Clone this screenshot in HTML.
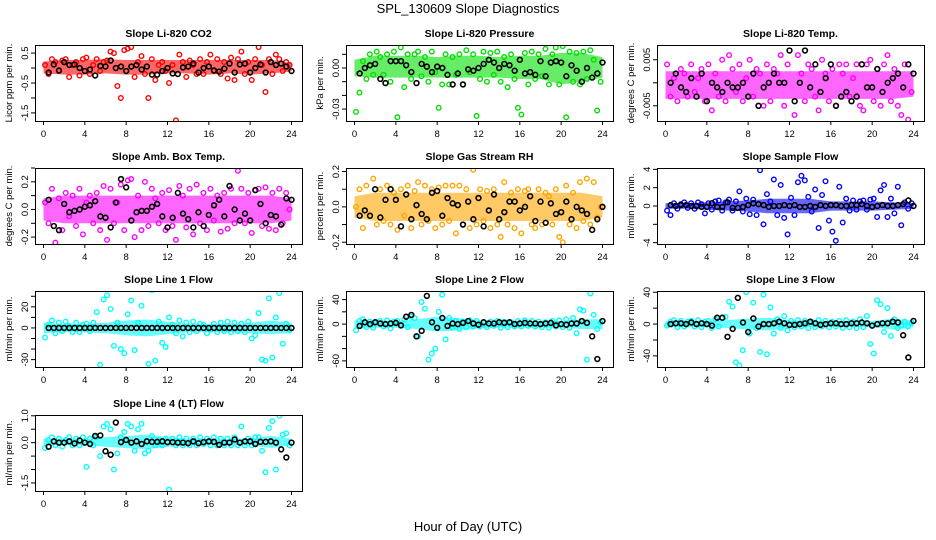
<!DOCTYPE html>
<html><head><meta charset="utf-8"><style>
body{margin:0;background:#fff;}
svg{display:block;font-family:"Liberation Sans",Arial,sans-serif;}
</style></head><body>
<svg id="chart" width="936" height="540" viewBox="0 0 936 540">
<rect width="936" height="540" fill="#fff"/>
<text x="468" y="13" text-anchor="middle" font-size="13">SPL_130609  Slope Diagnostics</text>
<text x="468" y="531" text-anchor="middle" font-size="13">Hour of Day (UTC)</text>
</svg>
<script>
// ---- data ----
const xTicks = [0,4,8,12,16,20,24];
const titles = ["Slope Li-820 CO2","Slope Li-820 Pressure","Slope Li-820 Temp.","Slope Amb. Box Temp.","Slope Gas Stream RH","Slope Sample Flow","Slope Line 1 Flow","Slope Line 2 Flow","Slope Line 3 Flow","Slope Line 4 (LT) Flow"];
const yLabels = ["Licor ppm per min.","kPa per min.","degrees C per min.","degrees C per min.","percent per min.","ml/min per min.","ml/min per min.","ml/min per min.","ml/min per min.","ml/min per min."];
const colors = ["#ff0000","#00e000","#ff00ff","#ff00ff","#ffa500","#0000ff","#00ffff","#00ffff","#00ffff","#00ffff"];
const yDomains = [[-1.77,0.77],[-0.0387,0.0168],[-0.0083,0.0082],[-0.25,0.30],[-0.21,0.22],[-4.15,4.15],[-37,35],[-70,54],[-54,41.6],[-1.8,1.03]];
const yTicks = [[0.5,0,-0.5,-1,-1.5],[0.01,0,-0.01,-0.02,-0.03],[0.005,0,-0.005],[0.3,0.2,0.1,0,-0.1,-0.2],[0.2,0.1,0,-0.1,-0.2],[4,2,0,-2,-4],[30,20,10,0,-10,-20,-30],[40,20,0,-20,-40,-60],[40,20,0,-20,-40],[1,0.5,0,-0.5,-1,-1.5]];
const yTickLabels = [["0.5","","-0.5","","-1.5"],["","0.00","","","-0.03"],["0.005","","-0.005"],["","0.2","","0.0","","-0.2"],["0.2","","0.0","","-0.2"],["4","2","0","","-4"],["","20","","0","","","-30"],["40","","0","","","-60"],["40","","0","","-40"]];
yTickLabels.push(["1.0","","0.0","","","-1.5"]);
const bandLo = [
[-0.18,-0.22,-0.22,-0.18,-0.22,-0.22,-0.18,-0.18,-0.22,-0.18,-0.22,-0.18,-0.12],
[-0.006,-0.007,-0.007,-0.007,-0.007,-0.007,-0.007,-0.007,-0.008,-0.008,-0.012,-0.01,-0.007],
[-0.0035,-0.0035,-0.0035,-0.0035,-0.0035,-0.0035,-0.0035,-0.0035,-0.0035,-0.0035,-0.0035,-0.0035,-0.003],
[-0.08,-0.1,-0.1,-0.1,-0.1,-0.1,-0.1,-0.1,-0.1,-0.1,-0.1,-0.1,-0.08],
[-0.06,-0.08,-0.08,-0.08,-0.08,-0.08,-0.08,-0.08,-0.08,-0.08,-0.08,-0.08,-0.06],
[-0.3,-0.3,-0.4,-0.5,-0.6,-0.8,-0.8,-0.8,-0.5,-0.5,-0.5,-0.4,-0.3],
[-5,-4,-4,-5,-7,-8,-6,-4,-4,-4,-5,-6,-5],
[-7,-6,-6,-8,-12,-10,-7,-6,-6,-6,-6,-8,-8],
[-4,-4,-4,-5,-7,-8,-5,-4,-4,-4,-4,-7,-4],
[-0.1,-0.1,-0.1,-0.15,-0.2,-0.25,-0.15,-0.1,-0.1,-0.1,-0.1,-0.2,-0.1]];
const bandHi = [
[0.22,0.27,0.27,0.3,0.27,0.27,0.27,0.27,0.27,0.27,0.27,0.27,0.18],
[0.006,0.009,0.009,0.009,0.008,0.009,0.009,0.008,0.009,0.009,0.011,0.011,0.008],
[0.0025,0.0025,0.0025,0.0025,0.0025,0.0025,0.0025,0.0025,0.0025,0.0025,0.0025,0.0025,0.0025],
[0.08,0.1,0.1,0.1,0.1,0.1,0.1,0.1,0.1,0.1,0.1,0.1,0.08],
[0.06,0.08,0.08,0.08,0.08,0.08,0.08,0.08,0.08,0.08,0.08,0.08,0.06],
[0.3,0.3,0.4,0.5,0.6,0.8,0.8,0.8,0.5,0.5,0.5,0.4,0.3],
[5,4,4,5,7,8,6,4,4,4,5,7,5],
[6,6,5,8,12,10,6,5,5,5,5,8,8],
[4,4,4,5,7,8,5,4,4,4,4,7,4],
[0.15,0.15,0.15,0.2,0.25,0.3,0.2,0.15,0.15,0.15,0.15,0.25,0.15]];
const pts = [
[0.1,-0.2,0.3,0.2,-0.1,0.25,0.3,-0.3,0.1,0.2,-0.25,0.3,0.35,-0.2,0.1,0.3,-0.1,0.2,0.25,0.55,0.5,-0.6,-1.0,0.6,0.65,0.7,-0.3,0.2,0.4,-0.2,-1.0,0.3,-0.4,0.1,0.2,-0.1,-0.5,0.1,-1.75,0.45,0.2,-0.3,0.25,0.1,-0.2,0.3,-0.2,0.2,0.45,-0.1,0.3,-0.2,0.2,-0.35,0.35,-0.4,0.3,0.55,-0.2,0.2,-0.4,0.3,0.7,0.1,-0.8,0.3,-0.2,0.45,0.3,-0.1,0.2,0.1],
[-0.032,-0.018,0.005,-0.008,0.01,-0.005,0.012,0.008,-0.005,0.01,-0.01,0.012,-0.036,0.015,-0.014,0.01,-0.008,0.01,0.012,-0.006,0.008,-0.01,0.012,-0.003,-0.029,-0.012,0.01,-0.012,0.008,-0.005,0.01,-0.012,0.013,-0.003,0.01,-0.035,-0.008,0.012,-0.01,0.011,-0.005,0.012,-0.01,0.008,-0.014,0.01,-0.008,-0.029,-0.034,0.011,-0.012,0.012,-0.008,0.01,-0.006,0.014,-0.012,0.01,0.015,-0.012,0.016,-0.036,0.012,-0.01,0.011,-0.012,0.012,-0.008,0.013,0.006,-0.031,-0.01],
[0.004,-0.003,0.001,-0.004,0.003,0.002,-0.003,0.004,-0.002,0.001,0.003,-0.004,0.004,-0.006,0.002,-0.003,0.005,-0.004,0.006,0.003,-0.002,0.004,-0.004,0.001,0.005,-0.003,0.003,0.002,-0.005,0.004,-0.004,0.003,0.002,0.006,-0.005,0.004,-0.009,-0.007,0.006,0.002,-0.004,0.004,0.003,-0.003,-0.006,0.005,0.002,-0.004,0.003,-0.005,0.004,0.002,0.004,-0.003,0.001,0.004,-0.005,-0.006,0.004,0.005,-0.004,0.003,-0.005,0.004,0.006,-0.004,0.003,-0.005,-0.007,0.004,-0.008,-0.002],
[0.05,-0.1,0.15,-0.24,0.08,-0.15,0.12,-0.05,0.1,-0.12,0.15,-0.18,0.05,0.1,-0.1,0.12,-0.15,0.17,-0.22,0.15,-0.1,0.05,0.18,-0.15,0.21,0.22,-0.2,0.1,-0.15,0.2,-0.12,0.15,0.08,-0.1,0.12,-0.15,0.14,-0.12,-0.22,0.17,0.1,-0.13,0.15,-0.18,0.18,-0.1,0.12,-0.15,0.15,-0.08,0.1,-0.16,0.12,-0.14,0.15,-0.1,0.28,0.15,-0.1,0.12,-0.17,0.14,0.15,-0.12,0.16,-0.14,0.12,-0.15,0.15,-0.1,0.12,0.0],
[0.0,0.1,-0.12,0.12,-0.05,0.16,-0.1,0.1,-0.08,0.12,-0.1,0.08,-0.13,0.1,-0.05,0.12,-0.12,0.09,0.14,-0.1,0.12,-0.08,0.1,-0.12,0.11,-0.1,0.12,-0.08,0.12,-0.15,0.12,-0.1,0.1,-0.12,0.21,-0.1,0.1,-0.08,0.09,-0.12,0.1,-0.1,-0.17,0.14,-0.1,0.08,-0.12,0.1,-0.15,0.09,0.1,-0.1,-0.12,0.1,-0.1,0.08,0.06,-0.1,0.1,-0.17,-0.2,0.12,-0.1,0.08,-0.12,0.14,-0.08,0.16,-0.1,0.14,-0.06,0.0],
[-0.5,-1.0,0.3,-0.3,0.2,0.4,-0.2,0.3,-0.3,0.4,0.2,-0.8,0.3,-0.4,0.5,0.6,-0.5,0.4,0.7,-0.5,0.5,1.6,-0.6,0.8,-0.9,0.7,-1.0,3.9,-2.0,1.3,0.5,2.9,-1.0,2.3,-1.3,-3.1,0.9,-1.0,2.6,3.3,2.8,1.0,-0.6,1.8,-2.4,1.2,2.7,-1.6,-2.8,-3.8,2.1,-1.8,0.8,-0.5,0.6,-0.4,0.5,0.6,-0.4,0.7,0.8,-1.2,1.7,2.3,-1.2,0.8,-0.8,2.1,-2.1,0.4,-0.3,0.3],
[-9,3,7,-5,5,-3,6,2,-4,5,-4,3,4,-3,5,15,-35,27,31,18,-17,5,-20,-24,13,26,-21,5,21,37,-34,36,-31,6,-14,-18,10,3,-5,7,-8,5,-4,6,-3,4,3,-5,-2,4,-4,5,-3,6,-4,5,-3,4,-4,6,-10,-7,14,-30,-31,28,-28,10,33,-15,4,-2],
[-10,5,8,-5,4,-6,3,5,-4,6,-7,4,5,-3,8,-5,12,10,-20,36,25,-58,-48,-40,20,48,-25,10,-6,5,-8,4,-5,6,-4,5,-4,3,-5,4,-3,5,-6,4,-5,3,-4,5,-4,6,-3,5,-4,4,-5,3,-6,5,-4,6,-5,8,-6,10,-15,24,22,-58,50,15,-8,3],
[-2,3,5,-4,4,-3,3,4,-3,5,-4,3,4,-5,6,-3,8,9,28,22,-48,-52,-33,40,-12,27,-5,-35,37,-38,21,-12,6,-5,10,-8,4,-4,5,-3,4,-5,3,-4,5,-3,4,-4,3,-3,4,-5,5,-4,3,-5,6,-4,10,-25,-37,30,25,-10,20,-15,6,-5,-2,3,-3,2],
[-0.2,0.1,0.2,-0.1,0.15,-0.15,0.1,0.2,-0.1,0.15,-0.1,0.2,-0.9,0.15,-0.1,0.2,-0.5,0.6,0.7,0.5,-1.0,-0.4,0.2,0.4,0.7,0.6,-0.3,0.5,0.7,-0.4,-0.3,0.25,-0.1,0.1,-0.1,0.15,-1.75,0.15,-0.1,0.2,-0.1,0.15,-0.1,0.15,-0.1,0.2,-0.05,0.15,-0.1,0.2,-0.1,0.15,-0.1,0.15,-0.1,0.2,-0.1,0.6,-0.1,0.15,-0.1,0.2,0.2,-0.3,-1.1,0.55,0.8,-1.0,1.0,0.3,0.35,-0.1]];
const blk = [
[-0.15,0.12,-0.08,0.2,0.1,0.12,0.0,-0.1,-0.05,-0.25,0.07,0.05,0.25,0.0,0.05,-0.1,0.05,0.1,-0.05,0.05,-0.22,-0.22,-0.1,0.0,-0.18,-0.2,0.02,0.05,0.15,-0.15,0.0,0.05,-0.08,-0.12,-0.02,0.15,-0.15,0.12,0.15,-0.15,0.0,0.12,-0.15,0.2,0.1,0.15,0.05,-0.1],
[-0.004,0.0,0.002,0.003,-0.008,-0.011,0.005,0.005,0.005,0.002,-0.003,-0.011,0.003,0.001,-0.003,0.001,0.0,-0.005,-0.012,-0.004,-0.012,-0.001,-0.002,0.0,0.003,0.006,0.004,0.0,0.003,0.002,-0.002,0.006,-0.004,-0.003,-0.005,0.005,-0.006,0.004,0.005,0.004,-0.006,0.002,-0.002,-0.01,0.0,-0.007,-0.004,0.004],
[0.0,0.002,-0.001,-0.002,0.001,-0.003,0.002,-0.004,0.0,-0.001,-0.002,0.0,-0.001,-0.001,0.0,-0.003,0.002,-0.005,-0.001,0.0,0.002,0.0,0.0,0.007,-0.004,0.0,0.007,-0.001,0.004,-0.002,0.001,0.004,-0.005,-0.003,-0.002,-0.004,-0.003,0.004,-0.001,-0.001,0.003,-0.002,0.0,0.001,0.002,-0.001,0.004,0.002],
[0.07,-0.12,-0.15,0.04,-0.02,-0.01,0.0,0.02,0.03,0.06,-0.05,-0.06,-0.13,0.05,0.22,0.16,-0.08,-0.02,-0.01,-0.01,0.02,0.04,-0.05,-0.13,-0.06,0.12,-0.03,-0.07,-0.13,-0.02,-0.12,-0.04,0.03,0.07,-0.05,0.17,0.0,-0.08,-0.03,-0.08,0.14,0.04,-0.1,-0.04,-0.05,-0.11,0.08,0.07],
[-0.05,-0.02,-0.05,0.1,-0.06,0.04,0.1,0.04,-0.11,0.07,-0.07,0.01,-0.04,-0.07,0.08,0.09,-0.05,0.05,0.02,0.01,-0.1,0.03,-0.07,0.05,-0.11,-0.02,0.07,-0.07,-0.03,0.03,0.03,-0.02,0.0,0.06,-0.08,0.03,-0.09,0.02,-0.04,-0.03,0.03,-0.07,0.0,-0.02,-0.04,-0.13,-0.07,0.0],
[0.1,0.0,0.1,0.1,0.0,0.0,-0.1,-0.1,0.3,-0.1,-0.1,0.4,-0.2,-0.2,-0.1,0.1,0.3,0.2,0.1,-0.1,0.0,0.0,0.1,0.0,0.1,-0.1,-0.1,0.0,-0.1,0.1,0.0,0.1,0.1,0.0,0.0,0.1,0.1,0.2,0.0,-0.1,0.0,0.1,0.0,0.0,0.1,0.2,0.6,0.0],
[0,0,0,0,0,0,0,0,0,0,0,0,0,0,0,0,0,0,0,0,0,0,0,0,0,0,0,0,0,0,0,0,0,0,0,0,0,0,0,0,0,0,0,0,0,0,0,0],
[-3,3,0,3,1,0,1,2,-2,12,15,-20,-11,46,3,-6,10,-3,1,0,2,5,1,-1,3,1,1,3,2,3,0,1,2,1,1,0,1,2,-2,0,-1,1,1,5,2,-20,-57,5],
[0,1,1,0,2,0,1,0,-2,8,8,-16,-6,33,2,-10,7,-3,0,0,1,3,1,-1,-1,0,1,3,1,-1,0,1,1,0,0,1,1,2,1,-2,0,1,1,3,2,-14,-42,4],
[-0.15,0.05,0.0,0.0,0.05,-0.03,0.08,0.0,-0.05,0.25,0.27,-0.32,-0.45,0.75,0.02,0.1,0.0,0.05,-0.05,0.05,0.03,0.03,0.05,0.02,0.02,0.0,0.0,-0.02,0.05,-0.02,0.02,0.05,0.03,-0.08,0.0,0.0,0.12,0.0,0.05,0.05,-0.05,0.03,0.03,0.05,0.0,-0.25,-0.55,0.0]];

// ---- layout ----
const svg = document.getElementById('chart');
const NS = 'http://www.w3.org/2000/svg';
const colLeft = [35,346,657], rowTop = [45,168,291,415];
const boxW = 267, boxH = 76;
function mk(tag, attrs, parent){const e=document.createElementNS(NS,tag);for(const k in attrs)e.setAttribute(k,attrs[k]);(parent||svg).appendChild(e);return e;}

for (let p=0;p<10;p++){
  const L = colLeft[p%3], T = rowTop[Math.floor(p/3)];
  const g = mk('g',{});
  
  
  const dom = yDomains[p];
  const xs = h => L + 8.5 + h/24*248;
  const ys = v => T + boxH - (v-dom[0])/(dom[1]-dom[0])*boxH;
  const clip = mk('clipPath',{id:'c'+p},g);
  mk('rect',{x:L,y:T,width:boxW,height:boxH},clip);
  const plot = mk('g',{'clip-path':'url(#c'+p+')'},g);
  const lo = bandLo[p], hi = bandHi[p];
  let d='';
  hi.forEach((v,i)=>{d+=(i?'L':'M')+xs(i*24/(hi.length-1)).toFixed(1)+','+ys(v).toFixed(1);});
  for(let i=lo.length-1;i>=0;i--) d+='L'+xs(i*24/(lo.length-1)).toFixed(1)+','+ys(lo[i]).toFixed(1);
  const band = mk('path',{d:d+'Z',fill:colors[p],opacity:0.6},plot);
  
  
  const P = pts[p];
  P.forEach((v,i)=>{
    const c = mk('circle',{cx:xs(i*24/P.length+0.15),cy:ys(v),r:2.3,fill:'none',stroke:colors[p],'stroke-width':1.4},plot);
    
    
  });
  const B = blk[p];
  B.forEach((v,i)=>{
    const c = mk('circle',{cx:xs((i+1)*24/B.length),cy:ys(v),r:2.4,fill:'none',stroke:'#000','stroke-width':1.6},plot);
    
    
  });
  const box = mk('rect',{x:L+0.5,y:T+0.5,width:boxW,height:boxH,fill:'none',stroke:'#000','stroke-width':1},g);
  
  
  xTicks.forEach(t=>{
    const x = xs(t);
    mk('line',{x1:x,x2:x,y1:T+boxH,y2:T+boxH+4,stroke:'#000'},g);
    const tx = mk('text',{x:x,y:T+boxH+16,'text-anchor':'middle','font-size':9.5},g);
    tx.textContent = t;
    
    
  });
  yTicks[p].forEach((t,i)=>{
    const y = ys(t);
    mk('line',{x1:L-4,x2:L,y1:y,y2:y,stroke:'#000'},g);
    const lab = yTickLabels[p][i];
    if(lab){
      const tx = mk('text',{x:L-7,y:y,'text-anchor':'middle','font-size':9.5,transform:'rotate(-90 '+(L-7)+' '+y+')'},g);
      tx.textContent = lab;
      
      
    }
  });
  const yl = mk('text',{x:L-23,y:T+boxH/2,'text-anchor':'middle','font-size':9.5,transform:'rotate(-90 '+(L-23)+' '+(T+boxH/2)+')'},g);
  yl.textContent = yLabels[p];
  
  
  const tt = mk('text',{x:L+boxW/2,y:T-8,'text-anchor':'middle','font-size':10.5,'font-weight':'bold'},g);
  tt.textContent = titles[p];
  
  
}
</script>
</body></html>
